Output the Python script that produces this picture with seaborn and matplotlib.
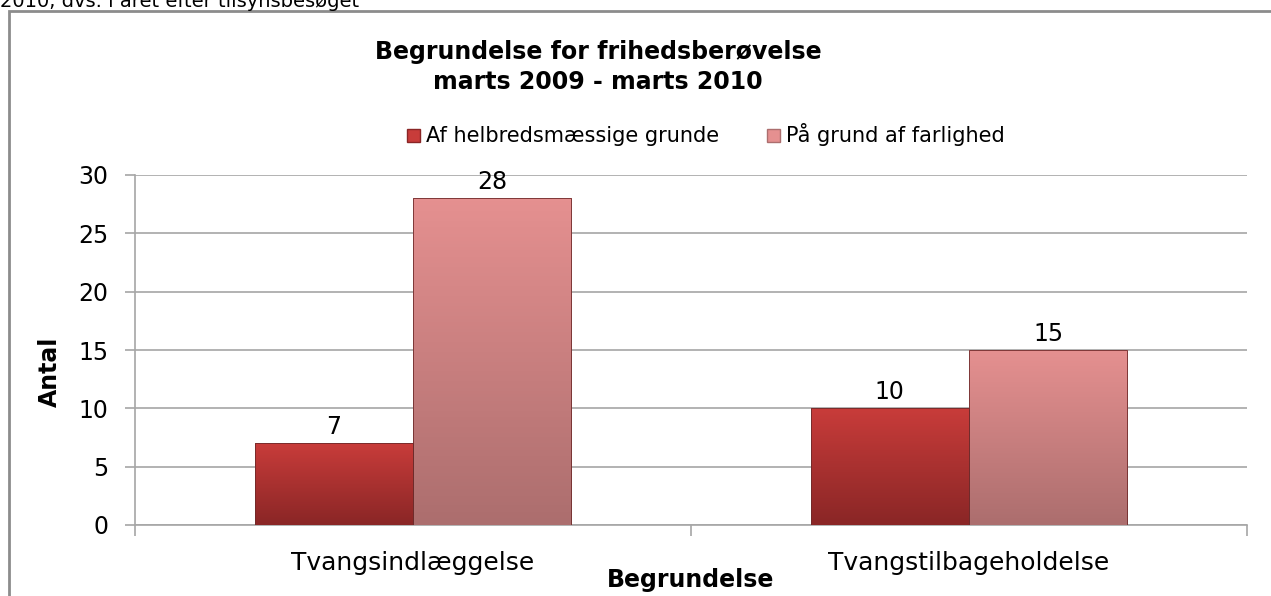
import numpy as np
import pandas as pd
import matplotlib
matplotlib.use("Agg")
import matplotlib.pyplot as plt
import seaborn as sns
from matplotlib.patches import Rectangle, Patch
from matplotlib.colors import LinearSegmentedColormap

# data
categories = ["Tvangsindlæggelse", "Tvangstilbageholdelse"]
series_names = ["Af helbredsmæssige grunde", "På grund af farlighed"]
helbred = [7, 10]
farlighed = [28, 15]

title = "Begrundelse for frihedsberøvelse\nmarts 2009 - marts 2010"
x_label = "Begrundelse"
y_label = "Antal"
top_text = "2010, dvs. i året efter tilsynsbesøget"

df = pd.DataFrame({
    "Begrundelse": categories * 2,
    "Antal": helbred + farlighed,
    "Serie": [series_names[0]] * 2 + [series_names[1]] * 2,
})

sns.set_theme(style="white")
plt.rcParams["font.family"] = ["DejaVu Sans"]
plt.rcParams["text.color"] = "black"
plt.rcParams["xtick.color"] = "black"
plt.rcParams["ytick.color"] = "black"

# top / bottom colours of the gradient fills
grad = {
    series_names[0]: ("#C83C3A", "#8A2626"),
    series_names[1]: ("#E59090", "#AC6E6E"),
}
palette = {k: v[0] for k, v in grad.items()}

W, H = 1271, 596
fig = plt.figure(figsize=(W / 100, H / 100), dpi=100)
ax = fig.add_axes([135 / W, 1 - 525 / H, (1247 - 135) / W, 350 / H])

sns.barplot(data=df, x="Begrundelse", y="Antal", hue="Serie", order=categories,
            hue_order=series_names, palette=palette, width=0.57, gap=0,
            edgecolor="#6E2A2A", linewidth=0.6, legend=False, ax=ax, zorder=3)

# gradient fill inside each bar
for cont, name in zip(ax.containers, series_names):
    top, bot = grad[name]
    cmap = LinearSegmentedColormap.from_list(name, [bot, top])
    for bar in cont:
        x0, y0 = bar.get_x(), bar.get_y()
        w, h = bar.get_width(), bar.get_height()
        img = ax.imshow(np.linspace(0, 1, 100).reshape(-1, 1), cmap=cmap,
                        extent=[x0, x0 + w, y0, y0 + h], origin="lower",
                        aspect="auto", zorder=3.5)
        img.set_clip_path(bar)
        bar.set_facecolor("none")
        bar.set_zorder(4)
    ax.bar_label(cont, fontsize=17, padding=3, color="black")

ax.set_xlim(-0.5, 1.5)
ax.set_ylim(0, 30)
ax.set_yticks(np.arange(0, 31, 5))
ax.yaxis.grid(True, color="#A6A6A6", linewidth=1.2)
ax.set_axisbelow(True)

for s in ["top", "right"]:
    ax.spines[s].set_visible(False)
for s in ["left", "bottom"]:
    ax.spines[s].set_color("#A6A6A6")
    ax.spines[s].set_linewidth(1.2)

ax.tick_params(axis="y", direction="out", length=7, width=1.2, color="#A6A6A6",
               left=True, labelsize=17, pad=12, labelcolor="black")
ax.set_xticks([-0.5, 0.5, 1.5])
ax.set_xticklabels([])
ax.set_xticks([0, 1], minor=True)
ax.set_xticklabels(categories, minor=True)
ax.tick_params(axis="x", which="major", direction="out", length=8, width=1.2,
               color="#A6A6A6", bottom=True)
ax.tick_params(axis="x", which="minor", length=0, labelsize=18, pad=19,
               labelcolor="black")
ax.set_xlabel("")
ax.set_ylabel("")

# axis titles
fig.text(691 / W, 1 - 580 / H, x_label, ha="center", va="center",
         fontsize=17, fontweight="bold")
fig.text(50 / W, 1 - 372 / H, y_label, ha="center", va="center",
         fontsize=17, fontweight="bold", rotation=90)

# chart title
fig.text(598 / W, 1 - 67 / H, title, ha="center", va="center",
         fontsize=17, fontweight="bold", linespacing=1.3)

# legend
handles = [Patch(facecolor=grad[n][0], edgecolor=grad[n][1]) for n in series_names]
fig.legend(handles, series_names, loc="center", bbox_to_anchor=(706 / W, 1 - 135 / H),
           ncol=2, frameon=False, fontsize=15, handlelength=0.6, handleheight=0.6,
           handletextpad=0.3, columnspacing=2.3)

# chart border and cut-off text above it
fig.patches.append(Rectangle((9 / W, -0.1), 1.2, 1 - 11 / H + 0.1,
                             transform=fig.transFigure, fill=False,
                             edgecolor="#8C8C8C", linewidth=2))
fig.text(0.0, 1 - 7 / H, top_text, ha="left", va="baseline", fontsize=14)

fig.savefig("out.png", dpi=100)
